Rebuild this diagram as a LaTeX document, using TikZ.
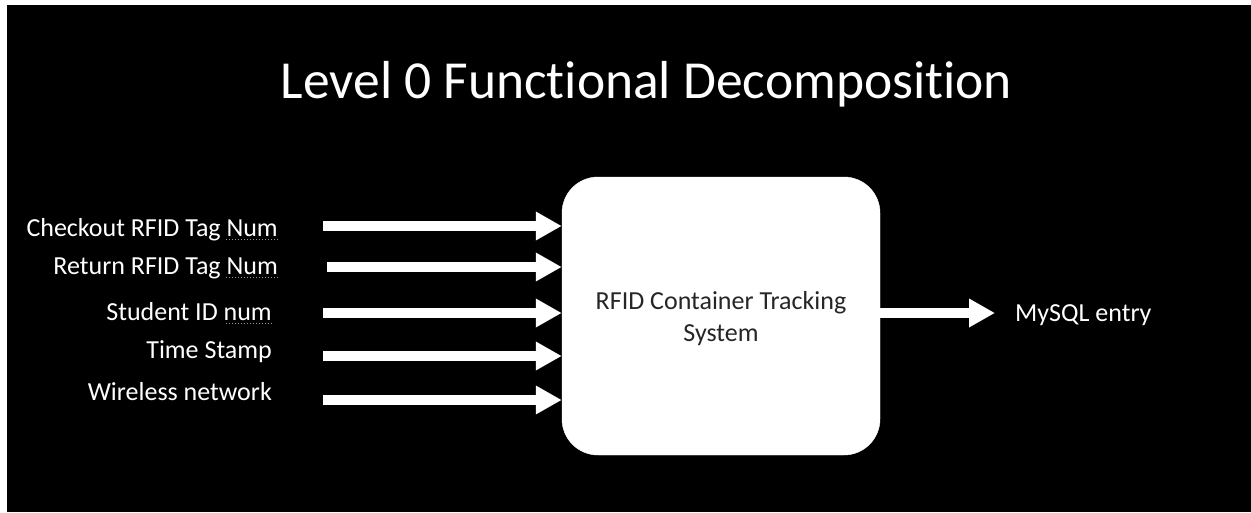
\documentclass[tikz,border=0pt]{standalone}
\usepackage{fontspec}
\setmainfont{Carlito}[Ligatures={NoCommon}]
\usetikzlibrary{arrows.meta}

\tikzset{
  inlabel/.style={text=white, inner sep=0pt, anchor=base east,
    font=\fontsize{26}{32}\selectfont},
  flow/.style={draw=white, line width=9.5pt,
    -{Triangle[length=26pt,width=27pt]}},
  procbox/.style={fill=white, draw=white, rounded corners=36pt,
    minimum width=318pt, minimum height=278pt, inner sep=0pt,
    align=center, font=\fontsize{26}{32}\selectfont, text=black!85},
  squig/.style={draw=gray!80, line width=1pt, dotted},
}

\begin{document}
\begin{tikzpicture}[x=1pt,y=1pt]
  % page and dark panel
  \fill[white] (0,0) rectangle (1251,-512);
  \fill[black] (6.5,-5) rectangle (1251,-512);
  \useasboundingbox (0,0) rectangle (1251,-512);

  % heading
  \node[text=white, inner sep=0pt, anchor=base,
        font=\fontsize{53.5}{60}\selectfont]
        (title) at (646.5,-98) {Level 0 Functional Decomposition};

  % central process
  \node[procbox] (sys) at (721,-316) {};
  \node[inner sep=0pt, align=center, text=black!85,
        font=\fontsize{26}{32}\selectfont]
        (systext) at ([yshift=-3pt]sys.center)
        {RFID Container Tracking\\System};

  % inputs
  \node[inlabel] (l1) at (278,-236) {Checkout RFID Tag Num};
  \node[inlabel] (l2) at (278,-274) {Return RFID Tag Num};
  \node[inlabel] (l3) at (272,-320) {Student ID num};
  \node[inlabel] (l4) at (272,-358) {Time Stamp};
  \node[inlabel] (l5) at (272,-400) {Wireless network};

  % spell-check marks under the abbreviations
  \draw[squig] ([yshift=-3pt]l1.base east) -- ++(-52,0);
  \draw[squig] ([yshift=-3pt]l2.base east) -- ++(-52,0);
  \draw[squig] ([yshift=-3pt]l3.base east) -- ++(-47,0);

  % arrow tails
  \coordinate (t1) at (323,-226);
  \coordinate (t2) at (327,-267);
  \coordinate (t3) at (323,-313);
  \coordinate (t4) at (323,-356);
  \coordinate (t5) at (323,-400);

  \draw[flow] (t1) -- (t1 -| sys.west);
  \draw[flow] (t2) -- (t2 -| sys.west);
  \draw[flow] (t3) -- (t3 -| sys.west);
  \draw[flow] (t4) -- (t4 -| sys.west);
  \draw[flow] (t5) -- (t5 -| sys.west);

  % output
  \node[text=white, inner sep=0pt, anchor=base west,
        font=\fontsize{26}{32}\selectfont]
        (out) at (1015,-321) {MySQL entry};
  \coordinate (o1) at (995,-313);
  \draw[flow] (sys.east |- o1) -- (o1);
\end{tikzpicture}
\end{document}
